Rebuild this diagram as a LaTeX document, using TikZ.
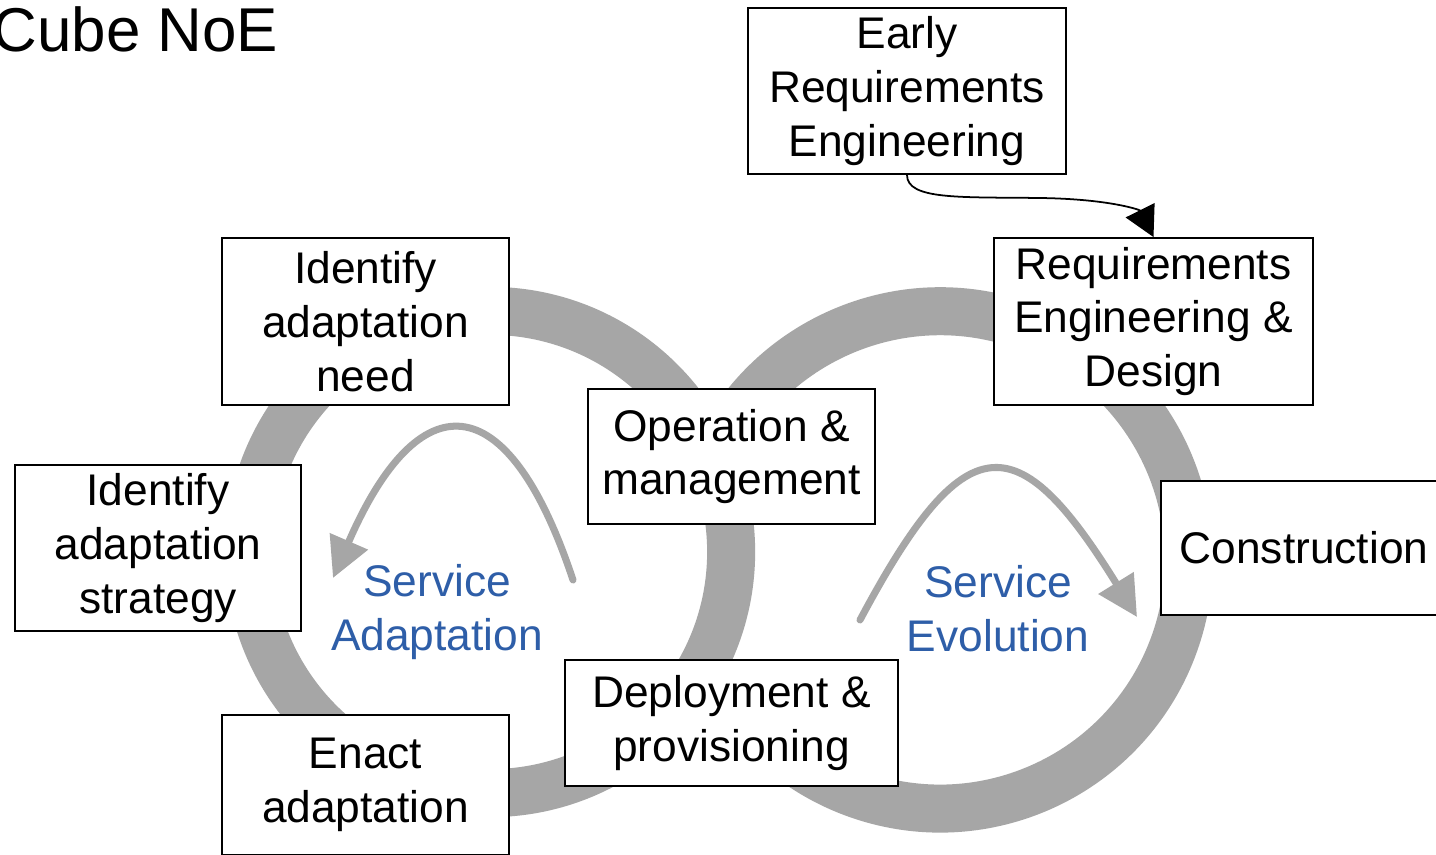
\documentclass[tikz,border=0pt]{standalone}
\usepackage{fontspec}
\setmainfont{Liberation Sans}
\usetikzlibrary{arrows.meta}

\definecolor{ringgray}{RGB}{166,166,166}
\definecolor{cycleblue}{RGB}{46,94,168}

\begin{document}
\begin{tikzpicture}[x=0.01cm,y=-0.01cm,
    stage/.style={font=\fontsize{12.6}{15.3}\selectfont,align=center,inner sep=0pt,draw,line width=0.5pt,fill=white},
    cycle label/.style={font=\fontsize{12.6}{15.3}\selectfont,align=center,text=cycleblue},
    ring/.style={draw=ringgray,line width=0.48cm},
    cycle arrow/.style={draw=ringgray,line width=2pt,line cap=round,-{Triangle[length=0.4cm,width=0.4cm]}}]
  \useasboundingbox (0,0) rectangle (1436,855);
  \fill[white] (0,0) rectangle (1436,855);

  % the two cycles
  \draw[ring] (490,552) circle[radius=2.41cm];
  \draw[ring] (708.4,470) arc[start angle=158.8,end angle=-151,radius=2.485cm];

  \coordinate (adapt start) at (573,580);
  \coordinate (adapt end) at (333,578);
  \draw[cycle arrow] (adapt start) .. controls (507,381) and (418,382) .. (adapt end);
  \coordinate (evo start) at (860,620);
  \coordinate (evo end) at (1137,617);
  \draw[cycle arrow] (evo start) .. controls (965,423) and (1017,423) .. (evo end);

  \node[cycle label] (adapt label) at (437,612) {Service\\Adaptation};
  \node[cycle label] (evo label) at (998,609) {Service\\Evolution};

  \node[font=\fontsize{17.6}{21}\selectfont,anchor=base west,inner sep=0pt] (title) at (-8,52) {Cube NoE};

  % boxes
  \node[stage,minimum width=3.18cm,minimum height=1.66cm] (stage early) at (907,91) {Early\\Requirements\\Engineering};
  \node[stage,minimum width=3.19cm,minimum height=1.67cm] (stage req) at (1153.5,321.5) {Requirements\\Engineering \&\\Design};
  \node[stage,minimum width=2.86cm,minimum height=1.34cm] (stage construction) at (1304,548) {Construction};
  \node[stage,minimum width=3.33cm,minimum height=1.26cm] (stage deploy) at (731.5,723) {Deployment \&\\provisioning};
  \node[stage,minimum width=2.87cm,minimum height=1.35cm] (stage operation) at (731.5,456.5) {Operation \&\\management};
  \node[stage,minimum width=2.87cm,minimum height=1.67cm] (stage need) at (365.5,321.5) {Identify\\adaptation\\need};
  \node[stage,minimum width=2.86cm,minimum height=1.66cm] (stage strategy) at (158,548) {Identify\\adaptation\\strategy};
  \node[stage,minimum width=2.87cm,minimum height=1.40cm] (stage enact) at (365.5,785) {Enact\\adaptation};

  \draw[line width=0.5pt,-{Triangle[length=0.3cm,width=0.32cm]}] (stage early.south)
    .. controls (907,200) and (960,197) .. (1040,198)
    .. controls (1110,199) and (1140,210) .. (stage req.north);
\end{tikzpicture}
\end{document}
